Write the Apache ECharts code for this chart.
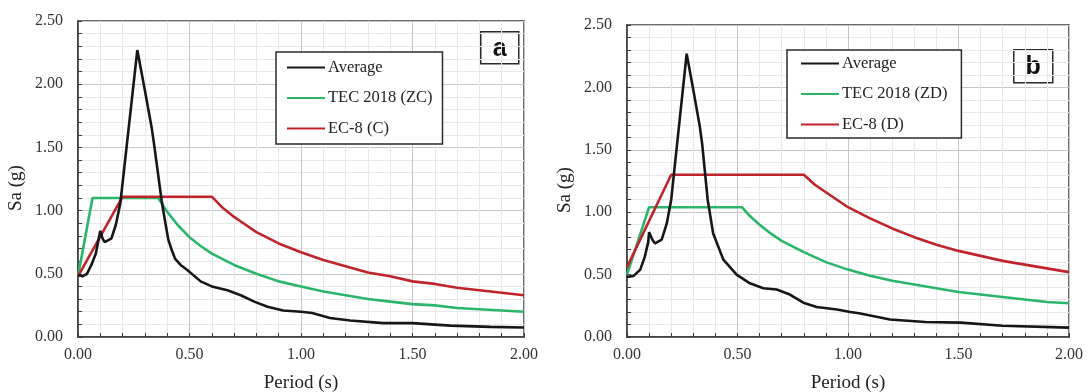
<!DOCTYPE html>
<html>
<head>
<meta charset="utf-8">
<script src="https://cdn.jsdelivr.net/npm/echarts@6/dist/echarts.min.js"></script>
<style>
  html, body { margin: 0; padding: 0; background: #fff; }
  #chart { width: 1088px; height: 392px; }
</style>
</head>
<body>
<div id="chart"></div>
<script>
// panel a - average spectrum
const avgPeriodA = [0, 0.02, 0.04, 0.06, 0.08, 0.10, 0.11, 0.12, 0.14, 0.15, 0.17, 0.19, 0.266, 0.30, 0.33, 0.34, 0.375, 0.39, 0.405, 0.42, 0.435, 0.46, 0.49, 0.55, 0.60, 0.67, 0.73, 0.79, 0.85, 0.92, 1.00, 1.05, 1.13, 1.22, 1.37, 1.50, 1.67, 1.85, 2.00];
const avgSaA     = [0.49, 0.48, 0.50, 0.57, 0.66, 0.84, 0.78, 0.75, 0.77, 0.78, 0.89, 1.06, 2.27, 1.95, 1.66, 1.54, 1.08, 0.92, 0.77, 0.69, 0.62, 0.57, 0.53, 0.44, 0.40, 0.37, 0.33, 0.28, 0.24, 0.21, 0.20, 0.19, 0.15, 0.13, 0.11, 0.11, 0.09, 0.08, 0.075];
// panel a - TEC 2018 (ZC)
const tecPeriodA = [0, 0.065, 0.36, 0.40, 0.45, 0.50, 0.55, 0.60, 0.70, 0.80, 0.90, 1.00, 1.10, 1.20, 1.30, 1.40, 1.50, 1.60, 1.70, 1.80, 1.90, 2.00];
const tecSaA     = [0.48, 1.10, 1.10, 0.99, 0.88, 0.79, 0.72, 0.66, 0.57, 0.50, 0.44, 0.40, 0.36, 0.33, 0.30, 0.28, 0.26, 0.25, 0.23, 0.22, 0.21, 0.20];
// panel a - EC-8 (C)
const ecPeriodA = [0, 0.20, 0.60, 0.65, 0.70, 0.75, 0.80, 0.90, 1.00, 1.10, 1.20, 1.30, 1.40, 1.50, 1.60, 1.70, 1.80, 1.90, 2.00];
const ecSaA     = [0.48, 1.11, 1.11, 1.02, 0.95, 0.89, 0.83, 0.74, 0.67, 0.61, 0.56, 0.51, 0.48, 0.44, 0.42, 0.39, 0.37, 0.35, 0.33];

// panel b - average spectrum
const avgPeriodB = [0, 0.03, 0.06, 0.08, 0.096, 0.10, 0.115, 0.127, 0.157, 0.18, 0.20, 0.27, 0.30, 0.33, 0.34, 0.365, 0.39, 0.436, 0.496, 0.556, 0.617, 0.677, 0.737, 0.798, 0.858, 0.95, 1.01, 1.05, 1.19, 1.35, 1.51, 1.70, 2.00];
const avgSaB     = [0.48, 0.49, 0.54, 0.64, 0.76, 0.84, 0.78, 0.75, 0.78, 0.91, 1.10, 2.27, 1.98, 1.68, 1.55, 1.10, 0.83, 0.62, 0.50, 0.43, 0.39, 0.38, 0.34, 0.275, 0.24, 0.22, 0.20, 0.19, 0.14, 0.12, 0.115, 0.09, 0.075];
// panel b - TEC 2018 (ZD)
const tecPeriodB = [0, 0.10, 0.52, 0.55, 0.60, 0.65, 0.70, 0.80, 0.90, 1.00, 1.10, 1.20, 1.30, 1.40, 1.50, 1.60, 1.70, 1.80, 1.90, 2.00];
const tecSaB     = [0.50, 1.04, 1.04, 0.98, 0.90, 0.83, 0.77, 0.68, 0.60, 0.54, 0.49, 0.45, 0.42, 0.39, 0.36, 0.34, 0.32, 0.30, 0.28, 0.27];
// panel b - EC-8 (D)
const ecPeriodB = [0, 0.20, 0.80, 0.85, 0.90, 1.00, 1.10, 1.20, 1.30, 1.40, 1.50, 1.60, 1.70, 1.80, 1.90, 2.00];
const ecSaB     = [0.56, 1.30, 1.30, 1.22, 1.16, 1.04, 0.95, 0.87, 0.80, 0.74, 0.69, 0.65, 0.61, 0.58, 0.55, 0.52];

const xTicks = [0, 0.5, 1.0, 1.5, 2.0];
const yTicks = [0, 0.5, 1.0, 1.5, 2.0, 2.5];

const BLACK = '#161616';
const GREEN = '#2bb56a';
const RED = '#c0242b';
const SERIF = '"Liberation Serif", "Times New Roman", serif';

function zip(xs, ys) {
  return xs.map((x, i) => [x, ys[i]]);
}

function xAxisFor(gridIndex) {
  return {
    type: 'value',
    gridIndex: gridIndex,
    min: xTicks[0],
    max: xTicks[xTicks.length - 1],
    interval: 0.5,
    name: 'Period (s)',
    nameLocation: 'middle',
    nameGap: 37,
    nameTextStyle: { fontFamily: SERIF, fontSize: 19, color: '#222' },
    axisLine: { show: true, lineStyle: { color: '#3a3a3a', width: 1.5 } },
    axisTick: { show: true, inside: true, length: 4, lineStyle: { color: '#3a3a3a' } },
    minorTick: { show: true, splitNumber: 5, length: 4, lineStyle: { color: '#3a3a3a' } },
    axisLabel: {
      fontFamily: SERIF, fontSize: 16, color: '#333', margin: 10,
      formatter: v => v.toFixed(2)
    },
    splitLine: { show: true, lineStyle: { color: '#c6c6c6', width: 1 } },
    minorSplitLine: { show: true, lineStyle: { color: '#e8e8e8', width: 1 } }
  };
}

function yAxisFor(gridIndex) {
  return {
    type: 'value',
    gridIndex: gridIndex,
    min: yTicks[0],
    max: yTicks[yTicks.length - 1],
    interval: 0.5,
    name: 'Sa (g)',
    nameLocation: 'middle',
    nameGap: 52,
    nameRotate: 90,
    nameTextStyle: { fontFamily: SERIF, fontSize: 19, color: '#222', padding: [0, 0, 0, -18] },
    axisLine: { show: true, lineStyle: { color: '#3a3a3a', width: 1.5 } },
    axisTick: { show: true, inside: true, length: 4, lineStyle: { color: '#3a3a3a' } },
    minorTick: { show: true, splitNumber: 5, length: 4, lineStyle: { color: '#3a3a3a' } },
    axisLabel: {
      fontFamily: SERIF, fontSize: 16, color: '#333', margin: 15,
      formatter: v => v.toFixed(2)
    },
    splitLine: { show: true, lineStyle: { color: '#c6c6c6', width: 1 } },
    minorSplitLine: { show: true, lineStyle: { color: '#e8e8e8', width: 1 } }
  };
}

function lineSeries(name, color, data, axisIndex) {
  return {
    name: name,
    type: 'line',
    xAxisIndex: axisIndex,
    yAxisIndex: axisIndex,
    data: data,
    symbol: 'none',
    smooth: false,
    lineStyle: { color: color, width: 2.6 },
    itemStyle: { color: color },
    emphasis: { disabled: true },
    animation: false
  };
}

function panelTag(letter, x, y, w, h) {
  return {
    type: 'group',
    left: x,
    top: y,
    children: [
      {
        type: 'rect',
        shape: { x: 0, y: 0, width: w, height: h },
        style: { fill: '#fff', stroke: '#2a2a2a', lineWidth: 1.5 }
      },
      {
        type: 'text',
        x: w / 2,
        y: h / 2 + 1,
        style: {
          text: letter,
          fill: '#111',
          stroke: null,
          lineWidth: 0,
          font: 'bold 25px "Liberation Sans", Arial, sans-serif',
          align: 'center',
          verticalAlign: 'middle'
        }
      }
    ]
  };
}

const legendBase = {
  orient: 'vertical',
  itemWidth: 38,
  itemHeight: 14,
  itemGap: 13.5,
  backgroundColor: '#fff',
  borderColor: '#2a2a2a',
  borderWidth: 1.5,
  borderRadius: 0,
  selectedMode: false,
  // hide the marker dot, keep only the line sample
  itemStyle: { color: 'rgba(0,0,0,0)', borderWidth: 0, opacity: 0 },
  textStyle: { fontFamily: SERIF, fontSize: 16.5, color: '#222', padding: [0, 0, 0, -2] }
};

const chart = echarts.init(document.getElementById('chart'), null, { renderer: 'canvas' });

const option = {
  backgroundColor: '#fff',
  animation: false,
  grid: [
    { left: 78, top: 21, width: 446, height: 316, outerBoundsMode: 'none', containLabel: false, show: true, borderColor: '#3a3a3a', borderWidth: 1.5, backgroundColor: 'transparent' },
    { left: 627, top: 25, width: 442, height: 312, outerBoundsMode: 'none', containLabel: false, show: true, borderColor: '#3a3a3a', borderWidth: 1.5, backgroundColor: 'transparent' }
  ],
  xAxis: [xAxisFor(0), xAxisFor(1)],
  yAxis: [yAxisFor(0), yAxisFor(1)],
  legend: [
    Object.assign({}, legendBase, {
      left: 276, top: 52,
      padding: [7, 10, 7, 10],
      data: ['Average', 'TEC 2018 (ZC)', 'EC-8 (C)']
    }),
    Object.assign({}, legendBase, {
      left: 787, top: 50,
      padding: [5, 14, 5, 13],
      data: ['Average', 'TEC 2018 (ZD)', 'EC-8 (D)']
    })
  ],
  series: [
    lineSeries('TEC 2018 (ZC)', GREEN, zip(tecPeriodA, tecSaA), 0),
    lineSeries('EC-8 (C)', RED, zip(ecPeriodA, ecSaA), 0),
    lineSeries('Average', BLACK, zip(avgPeriodA, avgSaA), 0),
    lineSeries('TEC 2018 (ZD)', GREEN, zip(tecPeriodB, tecSaB), 1),
    lineSeries('EC-8 (D)', RED, zip(ecPeriodB, ecSaB), 1),
    lineSeries('Average', BLACK, zip(avgPeriodB, avgSaB), 1)
  ],
  graphic: [
    panelTag('a', 480, 31, 38, 32),
    panelTag('b', 1013, 49, 39, 33)
  ]
};

chart.setOption(option);
</script>
</body>
</html>
